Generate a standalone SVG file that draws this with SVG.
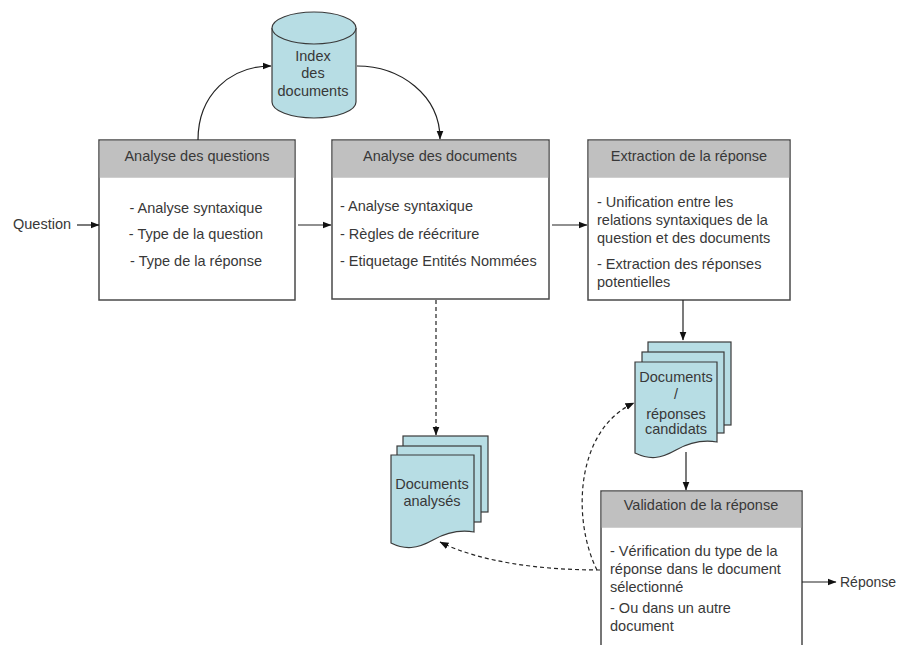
<svg xmlns="http://www.w3.org/2000/svg" width="898" height="645" viewBox="0 0 898 645">
<defs>
<marker id="ah" markerWidth="9" markerHeight="8" refX="8.5" refY="4" orient="auto" markerUnits="userSpaceOnUse">
<path d="M0,0.5 L9,4 L0,7.5 Z" fill="#111"/>
</marker>
<style>
text{font-family:"Liberation Sans",Arial,sans-serif;font-size:14.5px;fill:#383838}
.c{text-anchor:middle}
.box{fill:#fff;stroke:#4a4a4a;stroke-width:1.5}
.hdr{fill:#c0c0c0}
.sheet{fill:#b7dde4;stroke:#3a3a3a;stroke-width:1.2}
.ln{fill:none;stroke:#222;stroke-width:1.2}
.dash{fill:none;stroke:#222;stroke-width:1.2;stroke-dasharray:4,3}
</style>
</defs>
<rect width="898" height="645" fill="#fff"/>

<g id="index">
<path class="sheet" d="M272,28 V102 A42,16 0 0 0 356,102 V28"/>
<ellipse class="sheet" cx="314" cy="28" rx="42" ry="16"/>
<text class="c" x="313" y="61">Index</text>
<text class="c" x="313" y="78">des</text>
<text class="c" x="313" y="96">documents</text>
</g>

<g id="analyse-questions">
<rect class="box" x="99" y="140" width="196" height="160"/>
<rect class="hdr" x="99.75" y="140.75" width="194.5" height="37"/>
<text class="c" x="197" y="161">Analyse des questions</text>
<text class="c" x="196" y="213">- Analyse syntaxique</text>
<text class="c" x="196" y="239">- Type de la question</text>
<text class="c" x="196" y="266">- Type de la réponse</text>
</g>

<g id="analyse-documents">
<rect class="box" x="332" y="140" width="217" height="159"/>
<rect class="hdr" x="332.75" y="140.75" width="215.5" height="37"/>
<text class="c" x="440" y="161">Analyse des documents</text>
<text x="340" y="211">- Analyse syntaxique</text>
<text x="340" y="239">- Règles de réécriture</text>
<text x="340" y="266">- Etiquetage Entités Nommées</text>
</g>

<g id="extraction">
<rect class="box" x="588" y="140" width="202" height="160"/>
<rect class="hdr" x="588.75" y="140.75" width="200.5" height="37"/>
<text class="c" x="689" y="161">Extraction de la réponse</text>
<text x="597" y="207">- Unification entre les</text>
<text x="597" y="225">relations syntaxiques de la</text>
<text x="597" y="243">question et des documents</text>
<text x="597" y="269">- Extraction des réponses</text>
<text x="597" y="287">potentielles</text>
</g>

<g id="documents-analyses">
<rect class="sheet" x="403" y="436" width="85" height="76"/>
<rect class="sheet" x="397" y="446" width="84" height="76"/>
<path class="sheet" d="M391,455 L474,455 L474,532 C462,530 449,531 433,540 C417,549 405,550 391,543 Z"/>
<text class="c" x="432" y="489">Documents</text>
<text class="c" x="432" y="506">analysés</text>
</g>

<g id="documents-candidats">
<rect class="sheet" x="648" y="342" width="83" height="83"/>
<rect class="sheet" x="642" y="352" width="82" height="81"/>
<path class="sheet" d="M635,362 L717,362 L717,442 C705,440 692,441 676,450 C660,459 650,460 635,453 Z"/>
<text class="c" x="676" y="382">Documents</text>
<text class="c" x="676" y="399">/</text>
<text class="c" x="676" y="419">réponses</text>
<text class="c" x="676" y="434">candidats</text>
</g>

<g id="validation">
<rect class="box" x="601" y="491" width="201" height="180"/>
<rect class="hdr" x="601.75" y="491.75" width="199.5" height="36"/>
<text class="c" x="701" y="510">Validation de la réponse</text>
<text x="610" y="556">- Vérification du type de la</text>
<text x="610" y="574">réponse dans le document</text>
<text x="610" y="592">sélectionné</text>
<text x="610" y="613">- Ou dans un autre</text>
<text x="610" y="631">document</text>
</g>

<g id="question-label"><text x="13" y="229">Question</text></g>
<g id="reponse-label"><text x="840" y="587" style="font-size:14px">Réponse</text></g>

<g id="connectors">
<line class="ln" x1="77" y1="225" x2="99" y2="225" marker-end="url(#ah)"/>
<line class="ln" x1="298" y1="225" x2="331" y2="225" marker-end="url(#ah)"/>
<line class="ln" x1="552" y1="225" x2="587" y2="225" marker-end="url(#ah)"/>
<path class="ln" d="M198,140 C198,95 230,66 271,66" marker-end="url(#ah)"/>
<path class="ln" d="M357,66 C400,66 440,95 440,139" marker-end="url(#ah)"/>
<line class="dash" x1="436" y1="300" x2="436" y2="435" marker-end="url(#ah)"/>
<line class="ln" x1="683" y1="300" x2="683" y2="340" marker-end="url(#ah)"/>
<line class="ln" x1="686" y1="452" x2="686" y2="490" marker-end="url(#ah)"/>
<line class="ln" x1="802" y1="582" x2="836" y2="582" marker-end="url(#ah)"/>
<path class="dash" d="M600,570 C540,570 480,562 440,542" marker-end="url(#ah)"/>
<path class="dash" d="M597,570 C572,520 575,430 634,403" marker-end="url(#ah)"/>
</g>
</svg>
